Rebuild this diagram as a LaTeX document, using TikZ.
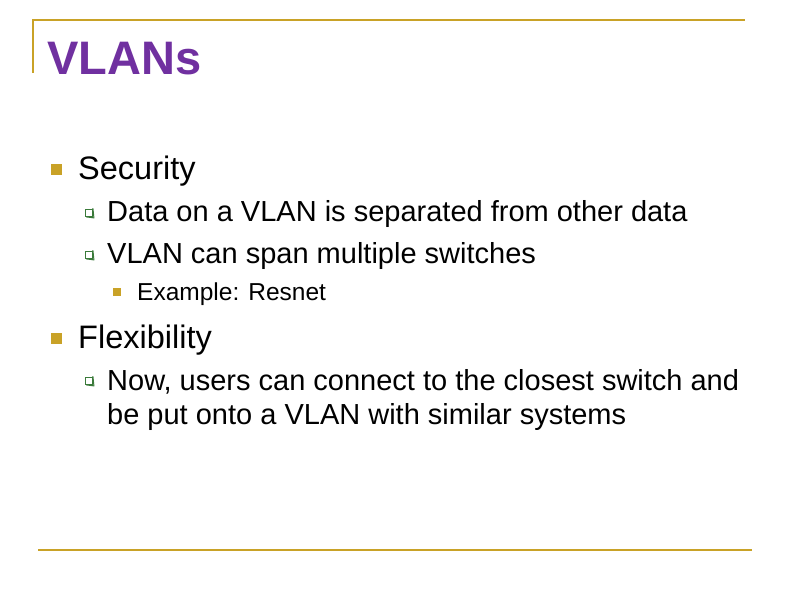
\documentclass[tikz,border=0pt]{standalone}
\usepackage{fontspec}
\setmainfont{Liberation Sans}
\definecolor{gold}{HTML}{C9A227}
\definecolor{ttl}{HTML}{7030A0}
\definecolor{grn}{HTML}{3A7A3A}
\begin{document}
\begin{tikzpicture}[x=1pt,y=-1pt,
  t1/.style={anchor=base west,inner sep=0,font=\fontsize{32.5}{38}\selectfont},
  t2/.style={anchor=base west,inner sep=0,font=\fontsize{29}{34}\selectfont},
  t3/.style={anchor=base west,inner sep=0,font=\fontsize{24.5}{29}\selectfont},
  b1/.style={fill=gold,draw=none,minimum size=11pt,inner sep=0},
  b3/.style={fill=gold,draw=none,minimum size=8pt,inner sep=0},
  b2/.style={draw=grn,line width=0.8pt,minimum size=7pt,inner sep=0},
  rule/.style={gold,line width=2.5pt}]
\useasboundingbox (0,0) rectangle (792,612);
\draw[rule] (33,73) -- (33,20) -- (745,20);
\draw[rule] (38,550) -- (752,550);
\node[anchor=base west,inner sep=0,text=ttl,font=\bfseries\fontsize{47}{54}\selectfont] (title) at (47,75) {VLANs};
\node[b1] (s1) at (56,170) {};
\node[t1] (sec) at (78,180) {Security};
\node[b2] (q1) at (89,213) {};
\node[t2] (d1) at (107,222) {Data on a VLAN is separated from other data};
\node[b2] (q2) at (89,255) {};
\node[t2] (d2) at (107,264) {VLAN can span multiple switches};
\node[b3] (s3) at (117,292) {};
\node[t3] (ex) at (137,301) {Example: Resnet};
\node[b1] (s2) at (56,338) {};
\node[t1] (flex) at (78,348) {Flexibility};
\node[b2] (q3) at (89,381) {};
\node[t2] (n1) at (107,390) {Now, users can connect to the closest switch and};
\node[t2] (n2) at (107,424) {be put onto a VLAN with similar systems};
\foreach \q in {q1,q2,q3}{\draw[grn,line width=1pt] ([xshift=1pt]\q.south west) -- ([xshift=1pt,yshift=-1pt]\q.south east) -- ([yshift=1pt]\q.north east);}
\end{tikzpicture}
\end{document}
